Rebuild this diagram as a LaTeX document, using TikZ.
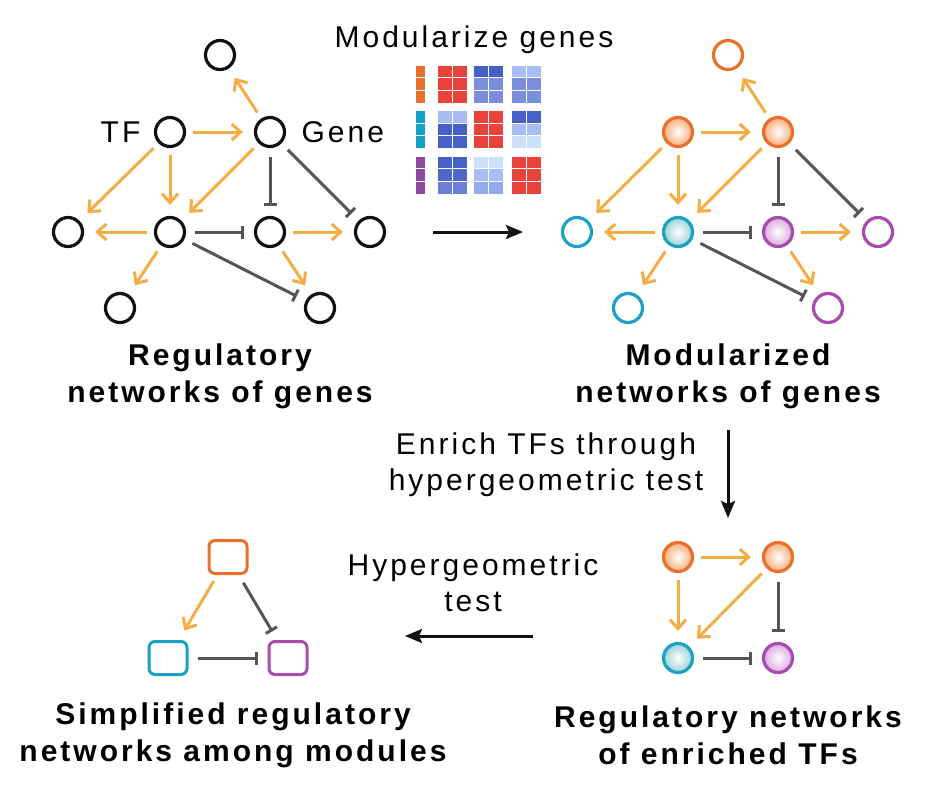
\documentclass[tikz,border=0pt]{standalone}
\usepackage{fontspec}
\setmainfont{Liberation Sans}[LetterSpace=10]
\usepackage{xcolor}
\definecolor{mainDark}{HTML}{111111}
\definecolor{actColor}{HTML}{F4AC45}
\definecolor{inhColor}{HTML}{555555}
\definecolor{orangeLine}{HTML}{E8702A}
\definecolor{orangeFill}{HTML}{F8AE78}
\definecolor{tealLine}{HTML}{1BA1C2}
\definecolor{tealFill}{HTML}{9CD2D6}
\definecolor{purpleLine}{HTML}{A64CAE}
\definecolor{purpleFill}{HTML}{DBA8DE}
% heatmap colours
\definecolor{hR}{HTML}{E8433A}
\definecolor{hD}{HTML}{4760C8}
\definecolor{hDb}{HTML}{5068C8}
\definecolor{hMb}{HTML}{6A80D6}
\definecolor{hM}{HTML}{7A8FDC}
\definecolor{hN}{HTML}{94AAEC}
\definecolor{hL}{HTML}{A9BDF5}
\definecolor{hV}{HTML}{CDE0FB}
\definecolor{orS}{HTML}{E8702A}
\definecolor{tlS}{HTML}{13A2C4}
\definecolor{ppS}{HTML}{8E4A9E}
\usepackage{tikz}
\usetikzlibrary{positioning,calc,arrows.meta}
\tikzset{
  geneNode/.style={
    circle,
    draw=mainDark,
    line width=3.2pt,
    minimum size=29pt,
    inner sep=0pt
 },
  orangeEmpty/.style={geneNode, draw=orangeLine},
  tealEmpty/.style={geneNode, draw=tealLine},
  purpleEmpty/.style={geneNode, draw=purpleLine},
  orangeBall/.style={geneNode, draw=orangeLine, inner color=white, outer color=orangeFill},
  tealBall/.style={geneNode, draw=tealLine, inner color=white, outer color=tealFill},
  purpleBall/.style={geneNode, draw=purpleLine, inner color=white, outer color=purpleFill},
  moduleBox/.style={
    rectangle,
    rounded corners=6pt,
    line width=3pt,
    minimum width=38pt,
    minimum height=33pt
 },
  actEdge/.style={
    -{Straight Barb[length=9pt,width=16pt]},
    line width=3pt,
    color=actColor,
    shorten <=7pt,
    shorten >=11pt
 },
  inhEdge/.style={
    -{Bar[width=13pt]},
    line width=3pt,
    color=inhColor,
    shorten <=9pt,
    shorten >=10pt
 },
  stepArrow/.style={
    -{Stealth[length=17pt,width=14pt,inset=3pt]},
    line width=3pt,
    color=mainDark
 },
  plainText/.style={
    align=center,
    font=\fontsize{30}{36}\selectfont
 },
  titleText/.style={
    align=center,
    font=\bfseries\fontsize{30}{37}\selectfont
 }
}

\begin{document}
\begin{tikzpicture}[x=1pt,y=-1pt]
  \useasboundingbox (0,0) rectangle (949,807);

  % regulatory networks of genes
  \node[geneNode] (lTop) at (220,55) {};
  \node[geneNode] (lTf) at (170,132) {};
  \node[geneNode] (lGene) at (270,132) {};
  \node[geneNode] (lA) at (68,232) {};
  \node[geneNode] (lB) at (170,232) {};
  \node[geneNode] (lC) at (270,232) {};
  \node[geneNode] (lD) at (370,232) {};
  \node[geneNode] (lE) at (120,308) {};
  \node[geneNode] (lF) at (320,308) {};
  \node[plainText, left=10pt of lTf] (tfLabel) {TF};
  \node[plainText, right=12pt of lGene] (geneLabel) {Gene};

  \draw[actEdge] (lGene) -- (lTop);
  \draw[actEdge] (lTf) -- (lGene);
  \draw[actEdge] (lTf) -- (lA);
  \draw[actEdge] (lTf) -- (lB);
  \draw[actEdge] (lGene) -- (lB);
  \draw[actEdge] (lB) -- (lA);
  \draw[actEdge] (lB) -- (lE);
  \draw[actEdge] (lC) -- (lD);
  \draw[actEdge] (lC) -- (lF);
  \draw[inhEdge] (lGene) -- (lC);
  \draw[inhEdge] (lGene) -- (lD);
  \draw[inhEdge] (lB) -- (lC);
  \draw[inhEdge] (lB) -- (lF);

  \node[titleText] (lTitle) at (220,376) {Regulatory\\networks of genes};

  % modularize genes
  \node[plainText] (modLabel) at (474,40) {Modularize genes};
  \foreach \r/\sc/\ca/\cb/\cc in {0/orS/hR/hD/hL, 1/orS/hR/hM/hM, 2/orS/hR/hM/hM,
                                   3/tlS/hL/hR/hD, 4/tlS/hD/hR/hL, 5/tlS/hD/hR/hV,
                                   6/ppS/hD/hV/hR, 7/ppS/hDb/hL/hR, 8/ppS/hMb/hN/hR} {
    \pgfmathsetmacro{\yy}{65+floor(\r/3)*45.5+mod(\r,3)*12.7}
    \fill[\sc] (416,\yy+0.5) rectangle ++(9,11.7);
    \foreach \xx/\cl in {437/\ca, 473.5/\cb, 511/\cc} {
      \fill[\cl] (\xx+0.5,\yy+0.5) rectangle ++(14,11.7);
      \fill[\cl] (\xx+15.5,\yy+0.5) rectangle ++(14,11.7);
    }
  }
  \coordinate (modStart) at (433,232);
  \coordinate (modEnd) at (523,232);
  \draw[stepArrow] (modStart) -- (modEnd);

  % modularized networks of genes
  \node[orangeEmpty] (mTop) at (728,55) {};
  \node[orangeBall] (mTf) at (678,132) {};
  \node[orangeBall] (mGene) at (778,132) {};
  \node[tealEmpty] (mA) at (577,232) {};
  \node[tealBall] (mB) at (678,232) {};
  \node[purpleBall] (mC) at (778,232) {};
  \node[purpleEmpty] (mD) at (878,232) {};
  \node[tealEmpty] (mE) at (628,308) {};
  \node[purpleEmpty] (mF) at (828,308) {};

  \draw[actEdge] (mGene) -- (mTop);
  \draw[actEdge] (mTf) -- (mGene);
  \draw[actEdge] (mTf) -- (mA);
  \draw[actEdge] (mTf) -- (mB);
  \draw[actEdge] (mGene) -- (mB);
  \draw[actEdge] (mB) -- (mA);
  \draw[actEdge] (mB) -- (mE);
  \draw[actEdge] (mC) -- (mD);
  \draw[actEdge] (mC) -- (mF);
  \draw[inhEdge] (mGene) -- (mC);
  \draw[inhEdge] (mGene) -- (mD);
  \draw[inhEdge] (mB) -- (mC);
  \draw[inhEdge] (mB) -- (mF);

  \node[titleText] (mTitle) at (728,376) {Modularized\\networks of genes};

  % enrich TFs
  \coordinate (enrichStart) at (728,430);
  \coordinate (enrichEnd) at (728,518);
  \draw[stepArrow] (enrichStart) -- (enrichEnd);
  \node[plainText] (enrichLabel) at (546,465) {Enrich TFs through\\hypergeometric test};

  % regulatory networks of enriched TFs
  \node[orangeBall] (eTl) at (678,557) {};
  \node[orangeBall] (eTr) at (778,557) {};
  \node[tealBall] (eBl) at (678,658) {};
  \node[purpleBall] (eBr) at (778,658) {};
  \draw[actEdge] (eTl) -- (eTr);
  \draw[actEdge] (eTl) -- (eBl);
  \draw[actEdge] (eTr) -- (eBl);
  \draw[inhEdge] (eTr) -- (eBr);
  \draw[inhEdge] (eBl) -- (eBr);
  \node[titleText] (eTitle) at (728,735) {Regulatory networks\\of enriched TFs};

  % hypergeometric test
  \coordinate (hyperStart) at (533,636);
  \coordinate (hyperEnd) at (405,636);
  \draw[stepArrow] (hyperStart) -- (hyperEnd);
  \node[plainText] (hyperLabel) at (473,583) {Hypergeometric\\test};

  % simplified networks among modules
  \node[moduleBox, draw=orangeLine] (sTop) at (228,557) {};
  \node[moduleBox, draw=tealLine] (sLeft) at (168,658) {};
  \node[moduleBox, draw=purpleLine] (sRight) at (288,658) {};
  \draw[actEdge] (sTop) -- (sLeft);
  \draw[inhEdge] (sTop) -- (sRight);
  \draw[inhEdge] (sLeft) -- (sRight);
  \node[titleText] (sTitle) at (233,735) {Simplified regulatory\\networks among modules};
\end{tikzpicture}
\end{document}
